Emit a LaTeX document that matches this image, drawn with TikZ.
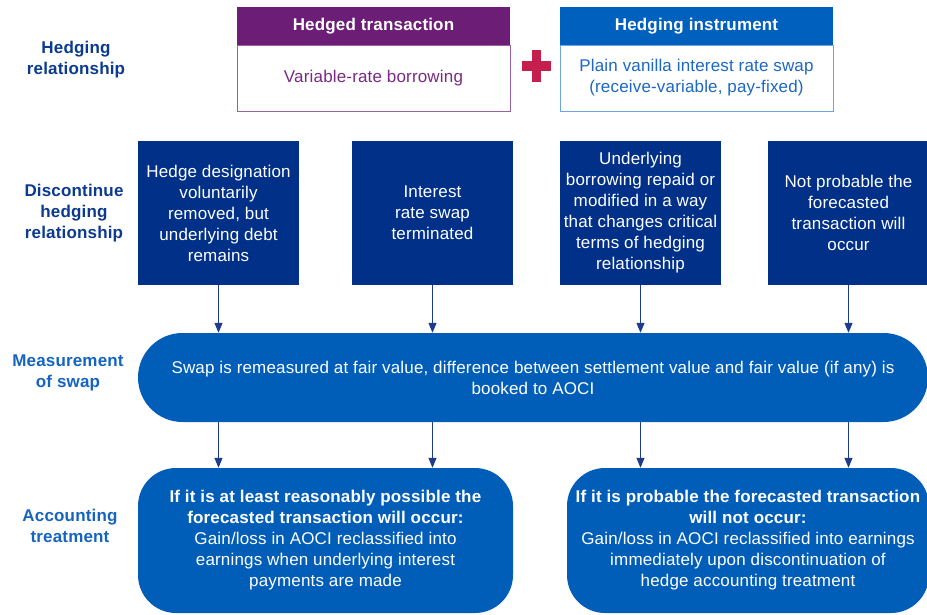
\documentclass[tikz,border=0pt]{standalone}
\usepackage{fontspec}
\setmainfont[LetterSpace=1.0]{Liberation Sans}
\usetikzlibrary{arrows.meta}
\definecolor{navy}{HTML}{003087}
\definecolor{midblue}{HTML}{005EB8}
\definecolor{lblnavy}{HTML}{0B3A8E}
\definecolor{lblblue}{HTML}{1565C0}
\definecolor{purp}{HTML}{6C1E77}
\definecolor{purptext}{HTML}{7A2A84}
\definecolor{instblue}{HTML}{0060BE}
\definecolor{insttext}{HTML}{1C68C4}
\definecolor{instborder}{HTML}{6FA3DC}
\definecolor{plus}{HTML}{C41F4D}
\definecolor{arrcol}{HTML}{1E3C8C}
\tikzset{
  txt/.style={font=\fontsize{17}{21}\selectfont, align=center, inner sep=0pt},
  rowlabel/.style={txt, font=\fontsize{17}{21}\selectfont\bfseries},
  hdrbox/.style={font=\fontsize{17}{21}\selectfont\bfseries, inner sep=0pt, text=white, minimum width=273pt, minimum height=38pt, text height=12pt, text depth=4pt},
  bodybox/.style={txt, fill=white, line width=1pt, minimum width=273pt, minimum height=66pt},
  discbox/.style={txt, fill=navy, text=white, minimum width=161pt, minimum height=144pt},
  bluebox/.style={txt, fill=midblue, text=white},
  arr/.style={draw=arrcol, line width=1.2pt, -{Triangle[width=8pt,length=10pt]}}
}
\begin{document}
\begin{tikzpicture}[x=1pt,y=-1pt]
\useasboundingbox (0,0) rectangle (927,614);

% row labels
\node[rowlabel, text=lblnavy] (r1) at (76,60) {Hedging\\relationship};
\node[rowlabel, text=lblnavy] (r2) at (74,213) {Discontinue\\hedging\\relationship};
\node[rowlabel, text=lblblue] (r3) at (68,373) {Measurement\\of swap};
\node[rowlabel, text=lblblue] (r4) at (70,526) {Accounting\\treatment};

% top boxes
\node[hdrbox, fill=purp] (h1) at (373.5,26) {Hedged transaction};
\node[bodybox, draw=purp!70, text=purptext] (b1) at (373.5,78) {Variable-rate borrowing};
\node[hdrbox, fill=instblue] (h2) at (696.5,26) {Hedging instrument};
\node[bodybox, draw=instborder, text=insttext] (b2) at (696.5,78) {Plain vanilla interest rate swap\\(receive-variable, pay-fixed)};

% plus sign
\fill[plus] (522,61) rectangle (551,71);
\fill[plus] (532,50) rectangle (541,82);

% discontinue boxes
\node[discbox] (d1) at (218.5,213) {Hedge designation\\voluntarily\\removed, but\\underlying debt\\remains};
\node[discbox] (d2) at (432.5,213) {Interest\\rate swap\\terminated};
\node[discbox] (d3) at (640.5,213) {Underlying\\borrowing repaid or\\modified in a way\\that changes critical\\terms of hedging\\relationship};
\node[discbox] (d4) at (848.5,213) {Not probable the\\forecasted\\transaction will\\occur};

% measurement
\node[bluebox, rounded corners=44.5pt, minimum width=790pt, minimum height=89pt] (m) at (533,377.5)
  {Swap is remeasured at fair value, difference between settlement value and fair value (if any) is\\booked to AOCI};

% accounting
\node[bluebox, rounded corners=38pt, minimum width=375pt, minimum height=145pt] (al) at (325.5,540.5)
  {\textbf{If it is at least reasonably possible the}\\\textbf{forecasted transaction will occur:}\\Gain/loss in AOCI reclassified into\\earnings when underlying interest\\payments are made};
\node[bluebox, rounded corners=38pt, minimum width=362pt, minimum height=145pt] (ar) at (748,540.5)
  {\textbf{If it is probable the forecasted transaction}\\\textbf{will not occur:}\\Gain/loss in AOCI reclassified into earnings\\immediately upon discontinuation of\\hedge accounting treatment};

% arrows
\foreach \d in {d1,d2,d3,d4} {
  \draw[arr] (\d.south) -- (\d.south |- m.north);
}
\draw[arr] (m.south -| d1.south) -- (d1.south |- al.north);
\draw[arr] (m.south -| d2.south) -- (d2.south |- al.north);
\draw[arr] (m.south -| d3.south) -- (d3.south |- ar.north);
\draw[arr] (m.south -| d4.south) -- (d4.south |- ar.north);
\end{tikzpicture}
\end{document}
